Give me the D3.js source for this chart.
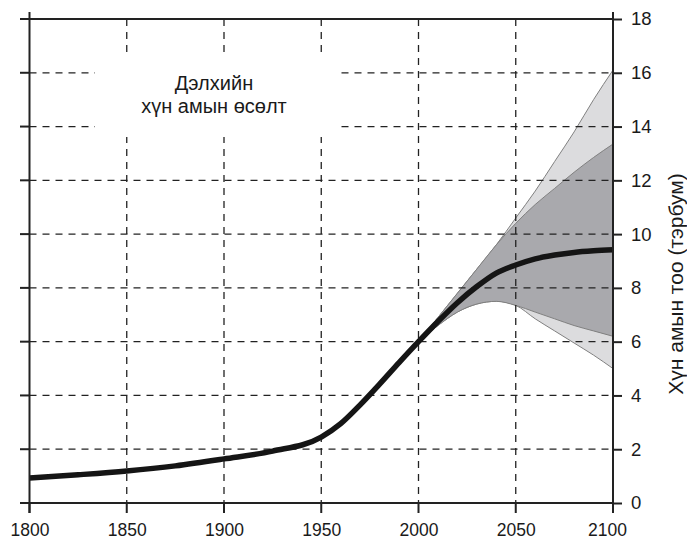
<!DOCTYPE html>
<html>
<head>
<meta charset="utf-8">
<script src="https://cdn.jsdelivr.net/npm/d3@7"></script>
<style>
  body { margin: 0; background: #fff; }
  text { font-family: "Liberation Sans", Arial, sans-serif; fill: #1a1a1a; }
</style>
</head>
<body>
<div id="chart-area"></div>
<script>
// historic population (billions)
var histYears = [1800, 1825, 1850, 1875, 1900, 1925, 1950, 1960, 1970, 1980, 1990, 2000];
var histPop   = [0.93, 1.05, 1.19, 1.38, 1.64, 1.93, 2.45, 2.95, 3.65, 4.42, 5.22, 6.0];

// projections
var projYears   = [2000, 2010, 2020, 2030, 2040, 2050, 2060, 2070, 2080, 2090, 2100];
var median      = [6.0, 6.75, 7.45, 8.05, 8.55, 8.85, 9.08, 9.22, 9.32, 9.38, 9.42];
var upperOuter  = [6.0, 6.9, 7.8, 8.7, 9.6, 10.6, 11.6, 12.7, 13.8, 15.0, 16.1];
var upperInner  = [6.0, 6.9, 7.8, 8.7, 9.6, 10.4, 11.1, 11.7, 12.3, 12.85, 13.35];
var lowerInner  = [6.0, 6.6, 7.1, 7.4, 7.5, 7.35, 7.1, 6.85, 6.6, 6.4, 6.2];
var lowerOuter  = [6.0, 6.6, 7.1, 7.4, 7.5, 7.35, 6.85, 6.4, 5.95, 5.5, 5.0];

var xTicks = [1800, 1850, 1900, 1950, 2000, 2050, 2100];
var yTicks = [0, 2, 4, 6, 8, 10, 12, 14, 16, 18];

var titleLines = ["Дэлхийн", "хүн амын өсөлт"];
var yTitle = "Хүн амын тоо (тэрбум)";

var width = 687, height = 540;

var x = d3.scaleLinear().domain([1800, 2100]).range([29.5, 613]);
var y = d3.scaleLinear().domain([0, 18]).range([503, 19]);

var svg = d3.select("#chart-area")
  .append("svg")
  .attr("width", width)
  .attr("height", height);

// bands
var hist = histYears.map((d, i) => ({year: d, v: histPop[i]}));
var proj = projYears.map((d, i) => ({
  year: d, med: median[i], uo: upperOuter[i], ui: upperInner[i], li: lowerInner[i], lo: lowerOuter[i]
}));

var curve = d3.curveMonotoneX;

var outerArea = d3.area().curve(curve)
  .x(d => x(d.year)).y0(d => y(d.lo)).y1(d => y(d.uo));
var innerArea = d3.area().curve(curve)
  .x(d => x(d.year)).y0(d => y(d.li)).y1(d => y(d.ui));

svg.append("path").datum(proj)
  .attr("d", outerArea)
  .attr("fill", "#dcdcde")
  .attr("stroke", "#808080")
  .attr("stroke-width", 1);

svg.append("path").datum(proj)
  .attr("d", innerArea)
  .attr("fill", "#a9a9ad")
  .attr("stroke", "#808080")
  .attr("stroke-width", 1);

// grid
var grid = svg.append("g")
  .attr("stroke", "#222")
  .attr("stroke-width", 1.3)
  .attr("stroke-dasharray", "7,6");

grid.selectAll(".hgrid")
  .data(yTicks.filter(d => d > 0 && d < 18))
  .enter().append("line")
  .attr("x1", x(1800)).attr("x2", x(2100))
  .attr("y1", d => y(d)).attr("y2", d => y(d));

grid.selectAll(".vgrid")
  .data(xTicks.filter(d => d > 1800 && d < 2100))
  .enter().append("line")
  .attr("x1", d => x(d)).attr("x2", d => x(d))
  .attr("y1", y(18)).attr("y2", y(0));

// blank box behind title
svg.append("rect")
  .attr("x", 95).attr("y", 55)
  .attr("width", 241).attr("height", 82)
  .attr("fill", "#fff");

svg.append("text")
  .attr("x", 214)
  .attr("y", 90)
  .attr("text-anchor", "middle")
  .attr("font-size", "20px")
  .selectAll("tspan")
  .data(titleLines)
  .enter().append("tspan")
  .attr("x", 214)
  .attr("dy", (d, i) => i ? 23 : 0)
  .text(d => d);

// main line
var line = d3.line().curve(curve).x(d => x(d.year)).y(d => y(d.v));
var all = hist.concat(proj.slice(1).map(d => ({year: d.year, v: d.med})));

svg.append("path").datum(all)
  .attr("d", line)
  .attr("fill", "none")
  .attr("stroke", "#151515")
  .attr("stroke-width", 5.5)
  .attr("stroke-linejoin", "round");

// frame / axes
var frame = svg.append("g").attr("stroke", "#222").attr("stroke-width", 2);
frame.append("line").attr("x1", 20).attr("x2", x(2100)).attr("y1", y(18)).attr("y2", y(18));
frame.append("line").attr("x1", 20).attr("x2", x(2100)).attr("y1", y(0)).attr("y2", y(0));
frame.append("line").attr("x1", x(1800)).attr("x2", x(1800)).attr("y1", 12).attr("y2", 513);
frame.append("line").attr("x1", x(2100)).attr("x2", x(2100)).attr("y1", 12).attr("y2", 513);

// left ticks
frame.selectAll(".lt").data(yTicks).enter().append("line")
  .attr("x1", 20).attr("x2", x(1800))
  .attr("y1", d => y(d)).attr("y2", d => y(d));

// bottom ticks
frame.selectAll(".bt").data(xTicks).enter().append("line")
  .attr("x1", d => x(d)).attr("x2", d => x(d))
  .attr("y1", y(0)).attr("y2", y(0) + 10);

// right axis
var rightAxis = d3.axisRight(y).tickValues(yTicks).tickSize(9).tickPadding(9);
var ra = svg.append("g")
  .attr("transform", "translate(" + x(2100) + ",0)")
  .call(rightAxis);
ra.select(".domain").remove();
ra.selectAll("line").attr("stroke", "#222").attr("stroke-width", 2);
ra.selectAll("text")
  .attr("font-size", "18.5px")
  .attr("font-family", "Liberation Sans, Arial, sans-serif")
  .attr("fill", "#1a1a1a");

// bottom labels
var bottomAxis = d3.axisBottom(x).tickValues(xTicks).tickSize(0).tickPadding(21)
  .tickFormat(d3.format("d"));
var ba = svg.append("g")
  .attr("transform", "translate(0," + y(0) + ")")
  .call(bottomAxis);
ba.select(".domain").remove();
ba.selectAll("text")
  .attr("font-size", "17.5px")
  .attr("font-family", "Liberation Sans, Arial, sans-serif")
  .attr("fill", "#1a1a1a")
  .attr("dx", d => d === 2100 ? -6 : 0);

// y title
svg.append("text")
  .attr("transform", "translate(683,284) rotate(-90)")
  .attr("text-anchor", "middle")
  .attr("font-size", "21px")
  .text(yTitle);
</script>
</body>
</html>
